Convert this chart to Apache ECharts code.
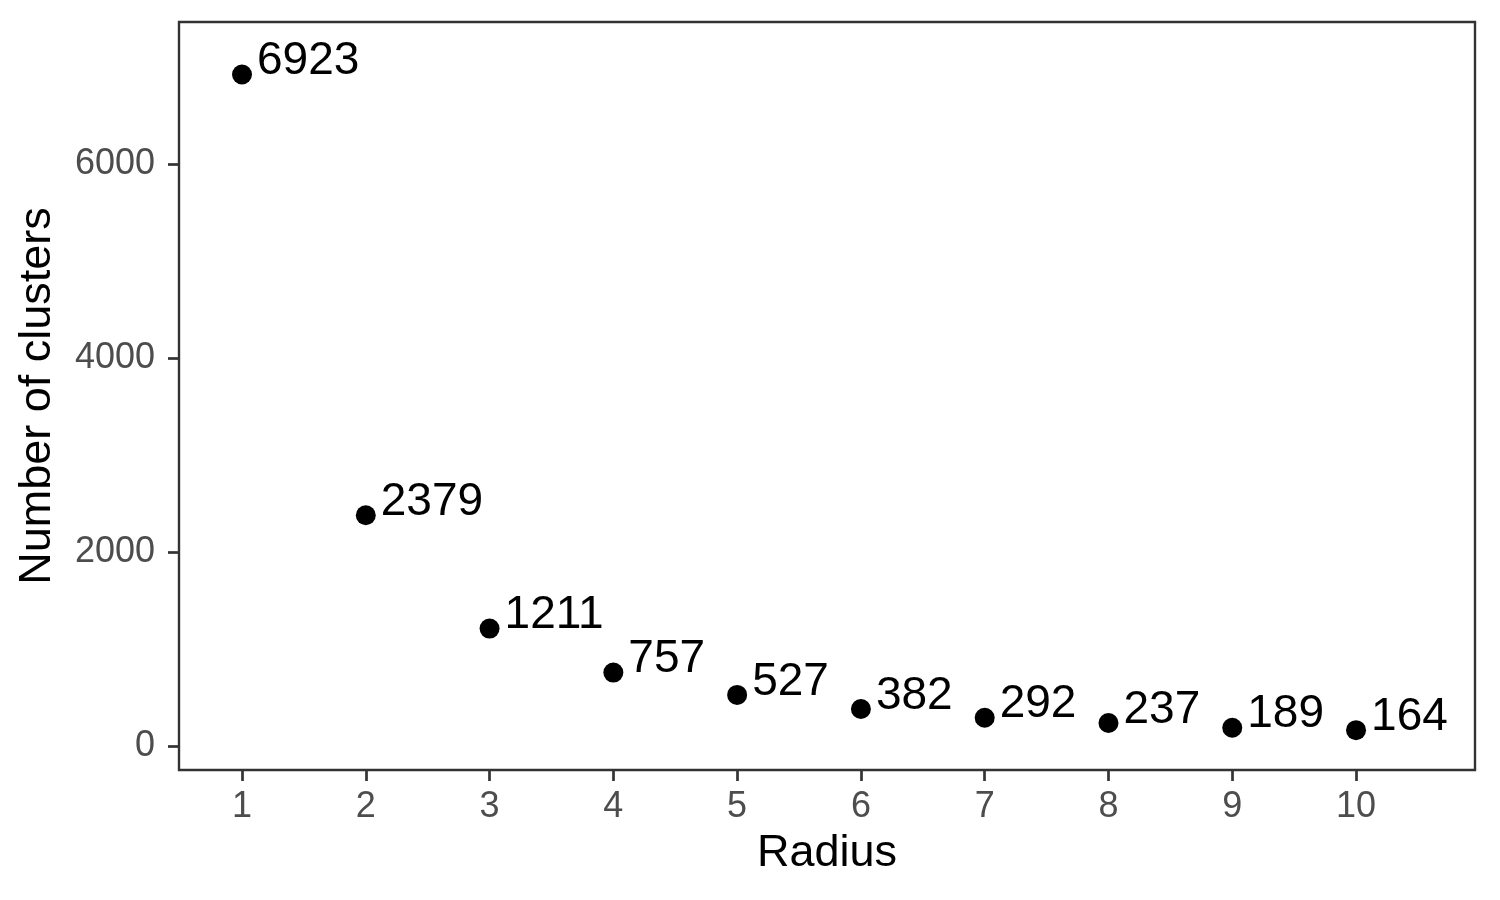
<!DOCTYPE html>
<html>
<head>
<meta charset="utf-8">
<title>Number of clusters by radius</title>
<script src="https://cdn.jsdelivr.net/npm/echarts@6/dist/echarts.min.js"></script>
<style>
  html, body { margin: 0; padding: 0; background: #fff; }
  #chart { width: 1500px; height: 900px; }
</style>
</head>
<body>
<div id="chart"></div>
<script>
// data
const radius = [1, 2, 3, 4, 5, 6, 7, 8, 9, 10];
const clusters = [6923, 2379, 1211, 757, 527, 382, 292, 237, 189, 164];
const xTicks = [1, 2, 3, 4, 5, 6, 7, 8, 9, 10];
const yTicks = [0, 2000, 4000, 6000];

const points = radius.map((r, i) => [r, clusters[i]]);

const font = 'Liberation Sans, Arial, sans-serif';

const chart = echarts.init(document.getElementById('chart'));

const option = {
  backgroundColor: '#fff',
  animation: false,
  grid: {
    left: 179,
    top: 22,
    width: 1296,
    height: 748,
    show: true,
    borderColor: '#333',
    borderWidth: 2.4,
    backgroundColor: 'transparent'
  },
  xAxis: {
    type: 'value',
    min: 0.491,
    max: 10.961,
    name: 'Radius',
    nameLocation: 'middle',
    nameGap: 61,
    nameTextStyle: { fontFamily: font, fontSize: 45, color: '#000' },
    axisLine: { show: false, onZero: false },
    splitLine: { show: false },
    axisTick: {
      show: true,
      length: 11,
      customValues: xTicks,
      lineStyle: { color: '#333', width: 2.7 }
    },
    axisLabel: {
      customValues: xTicks,
      margin: 19,
      fontFamily: font,
      fontSize: 36,
      color: '#4d4d4d'
    }
  },
  yAxis: {
    type: 'value',
    min: -247,
    max: 7464,
    name: 'Number of clusters',
    nameLocation: 'middle',
    nameGap: 119,
    nameTextStyle: { fontFamily: font, fontSize: 45, color: '#000' },
    axisLine: { show: false, onZero: false },
    splitLine: { show: false },
    axisTick: {
      show: true,
      length: 11,
      customValues: yTicks,
      lineStyle: { color: '#333', width: 2.7 }
    },
    axisLabel: {
      customValues: yTicks,
      margin: 24,
      formatter: v => String(v),
      fontFamily: font,
      fontSize: 36,
      color: '#4d4d4d'
    }
  },
  series: [
    {
      type: 'scatter',
      data: points,
      symbol: 'circle',
      symbolSize: 20,
      itemStyle: { color: '#000', opacity: 1 },
      label: {
        show: true,
        position: 'right',
        distance: 5,
        offset: [0, -13],
        formatter: p => String(p.value[1]),
        fontFamily: font,
        fontSize: 46,
        color: '#000'
      }
    }
  ]
};

chart.setOption(option);
</script>
</body>
</html>
